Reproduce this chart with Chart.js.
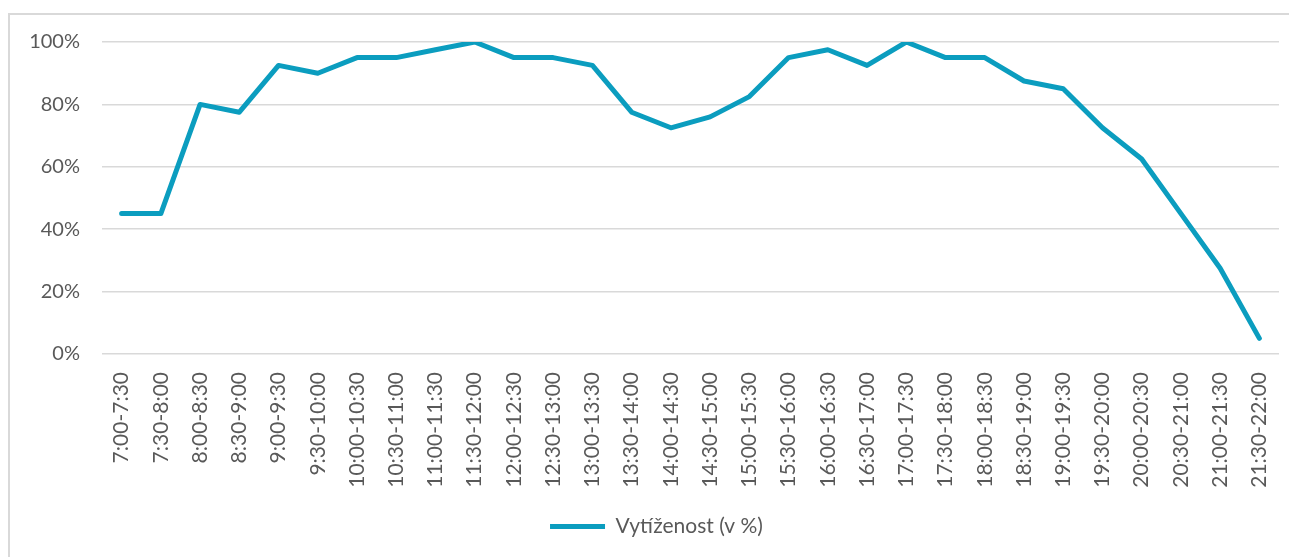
<!DOCTYPE html>
<html>
<head>
<meta charset="utf-8">
<script src="https://cdn.jsdelivr.net/npm/chart.js@4/dist/chart.umd.min.js"></script>
<style>
  html, body { margin: 0; padding: 0; background: #ffffff; overflow: hidden; }
  #frame { position: absolute; left: 8px; top: 13px; width: 1300px; height: 560px; border: 2px solid #d9d9d9; box-sizing: border-box; }
  #wrap { position: absolute; left: 0; top: 0; width: 1289px; height: 557px; }
</style>
</head>
<body>
<div id="frame"></div>
<div id="wrap"><canvas id="c" width="1289" height="557"></canvas></div>
<script>
const categories = ["7:00-7:30","7:30-8:00","8:00-8:30","8:30-9:00","9:00-9:30","9:30-10:00","10:00-10:30","10:30-11:00","11:00-11:30","11:30-12:00","12:00-12:30","12:30-13:00","13:00-13:30","13:30-14:00","14:00-14:30","14:30-15:00","15:00-15:30","15:30-16:00","16:00-16:30","16:30-17:00","17:00-17:30","17:30-18:00","18:00-18:30","18:30-19:00","19:00-19:30","19:30-20:00","20:00-20:30","20:30-21:00","21:00-21:30","21:30-22:00"];
const seriesName = "Vytíženost (v %)";
const utilization = [45,45,80,77.5,92.5,90,95,95,97.5,100,95,95,92.5,77.5,72.5,76,82.5,95,97.5,92.5,100,95,95,87.5,85,72.5,62.5,45,27.5,5];
const yTicks = [0,20,40,60,80,100];

const lineColor = '#0b9dbf';
const textColor = '#595959';
const gridColor = '#d9d9d9';
const fontFamily = 'Lato, "Open Sans", sans-serif';

const legendShift = {
  id: 'legendShift',
  afterLayout(chart) {
    if (chart.legend) { chart.legend.left += 17; chart.legend.right += 17; }
  }
};

new Chart(document.getElementById('c'), {
  type: 'line',
  data: {
    labels: categories,
    datasets: [{
      label: seriesName,
      data: utilization,
      borderColor: lineColor,
      backgroundColor: lineColor,
      borderWidth: 5,
      tension: 0,
      pointRadius: 0,
      pointHoverRadius: 0,
      borderCapStyle: 'round',
      borderJoinStyle: 'round',
      fill: false
    }]
  },
  plugins: [legendShift],
  options: {
    responsive: false,
    animation: false,
    devicePixelRatio: 1,
    layout: { padding: { left: 0, right: 10, top: 42, bottom: 10 } },
    plugins: {
      tooltip: { enabled: false },
      legend: {
        position: 'bottom',
        labels: {
          color: textColor,
          font: { family: fontFamily, size: 21 },
          boxWidth: 55,
          boxHeight: 5,
          padding: 10,
          generateLabels: (chart) => [{
            text: seriesName,
            fillStyle: lineColor,
            strokeStyle: lineColor,
            lineWidth: 0,
            hidden: false,
            datasetIndex: 0,
            fontColor: textColor
          }]
        }
      }
    },
    scales: {
      x: {
        offset: true,
        grid: { display: false, drawTicks: false },
        border: { display: false },
        ticks: {
          color: textColor,
          font: { family: fontFamily, size: 21 },
          autoSkip: false,
          minRotation: 90,
          maxRotation: 90,
          padding: 18
        },
        afterFit: (s) => { s.height = 152; s.paddingRight = 0; s.paddingLeft = 0; }
      },
      y: {
        min: 0,
        max: 100,
        afterBuildTicks: (s) => { s.ticks = yTicks.map(v => ({ value: v })); },
        grid: { color: gridColor, lineWidth: 1.5, drawTicks: false },
        border: { display: false },
        ticks: {
          color: textColor,
          font: { family: fontFamily, size: 20 },
          padding: 22,
          callback: (v) => v + '%'
        },
        afterFit: (s) => { s.width = 102; }
      }
    }
  }
});
</script>
</body>
</html>
